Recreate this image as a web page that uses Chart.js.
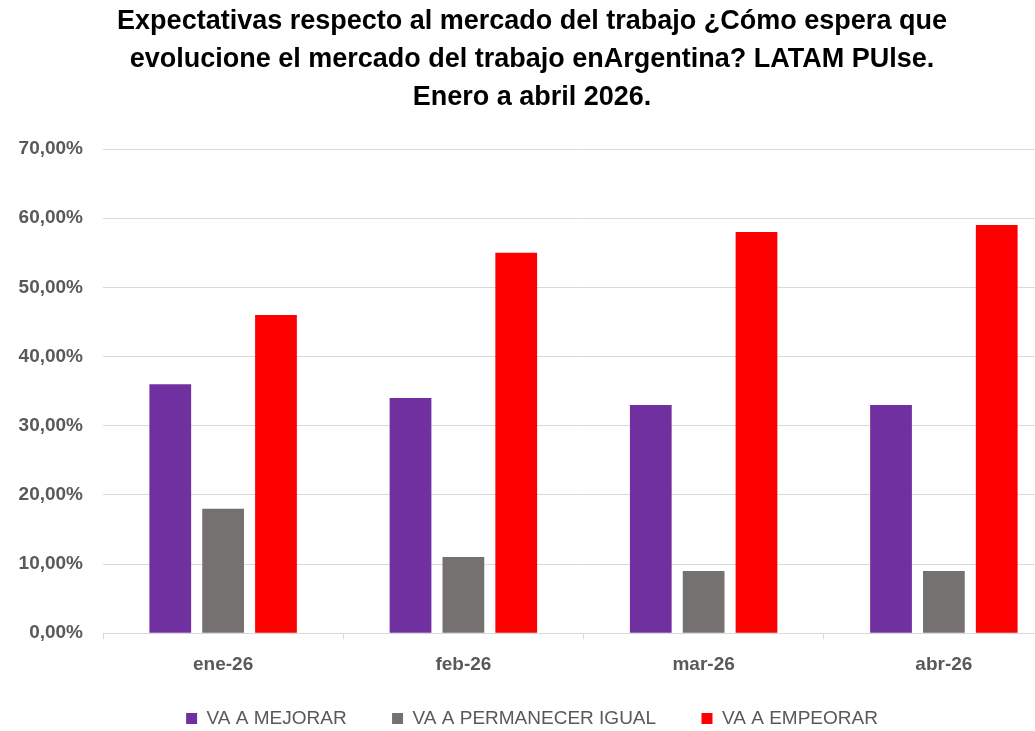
<!DOCTYPE html>
<html>
<head>
<meta charset="utf-8">
<script src="https://cdn.jsdelivr.net/npm/chart.js@4.4.1/dist/chart.umd.min.js"></script>
<style>
  html, body { margin: 0; padding: 0; background: #fff; overflow: hidden; }
  #wrap { width: 1035px; height: 731px; overflow: hidden; }
  #box { width: 1090px; height: 731px; }
</style>
</head>
<body>
<div id="wrap"><div id="box"><canvas id="c"></canvas></div></div>
<script>
// Datos (porcentajes)
const months = ['ene-26', 'feb-26', 'mar-26', 'abr-26'];
const mejorar = [36, 34, 33, 33];
const igual = [18, 11, 9, 9];
const empeorar = [46, 55, 58, 59];
const titleLines = [
  'Expectativas respecto al mercado del trabajo ¿Cómo espera que',
  'evolucione el mercado del trabajo enArgentina? LATAM PUlse.',
  'Enero a abril 2026.'
];

const FONT = '"Liberation Sans", Arial, sans-serif';
const fmt = v => v.toFixed(2).replace('.', ',') + '%';

const bar = (label, data, color) => ({
  label, data,
  backgroundColor: color,
  borderWidth: 0,
  categoryPercentage: 0.66,
  barPercentage: 0.79
});

new Chart(document.getElementById('c').getContext('2d'), {
  type: 'bar',
  data: {
    labels: months,
    datasets: [
      bar('VA A MEJORAR', mejorar, '#7030A0'),
      bar('VA A PERMANECER IGUAL', igual, '#767171'),
      bar('VA A EMPEORAR', empeorar, '#FF0000')
    ]
  },
  options: {
    responsive: true,
    maintainAspectRatio: false,
    animation: false,
    layout: { padding: { top: 0, right: 26, left: 0, bottom: -7 } },
    scales: {
      x: {
        grid: { drawOnChartArea: false, color: '#d9d9d9', tickLength: 6 },
        border: { color: '#d9d9d9' },
        ticks: { color: '#595959', font: { family: FONT, size: 19, weight: 'bold' }, padding: 14 }
      },
      y: {
        min: 0, max: 70,
        afterFit: s => { s.width = 103; },
        grid: { color: '#d9d9d9', drawTicks: false },
        border: { display: false },
        ticks: {
          stepSize: 10,
          padding: 20,
          color: '#595959',
          font: { family: FONT, size: 19, weight: 'bold' },
          callback: v => fmt(v)
        }
      }
    },
    plugins: {
      title: {
        display: true,
        text: titleLines,
        color: '#000',
        font: { family: FONT, size: 27, weight: 'bold', lineHeight: 1.42 },
        padding: { top: 2, bottom: 32 }
      },
      legend: {
        position: 'bottom',
        labels: {
          color: '#595959',
          font: { family: FONT, size: 19 },
          boxWidth: 11, boxHeight: 11,
          padding: 19,
          // espacio extra entre elementos de la leyenda
          generateLabels: chart => {
            const items = Chart.defaults.plugins.legend.labels.generateLabels(chart);
            items.forEach((it, i) => { if (i < items.length - 1) it.text += '     '; });
            return items;
          }
        }
      },
      tooltip: { enabled: false }
    }
  }
});
</script>
</body>
</html>
